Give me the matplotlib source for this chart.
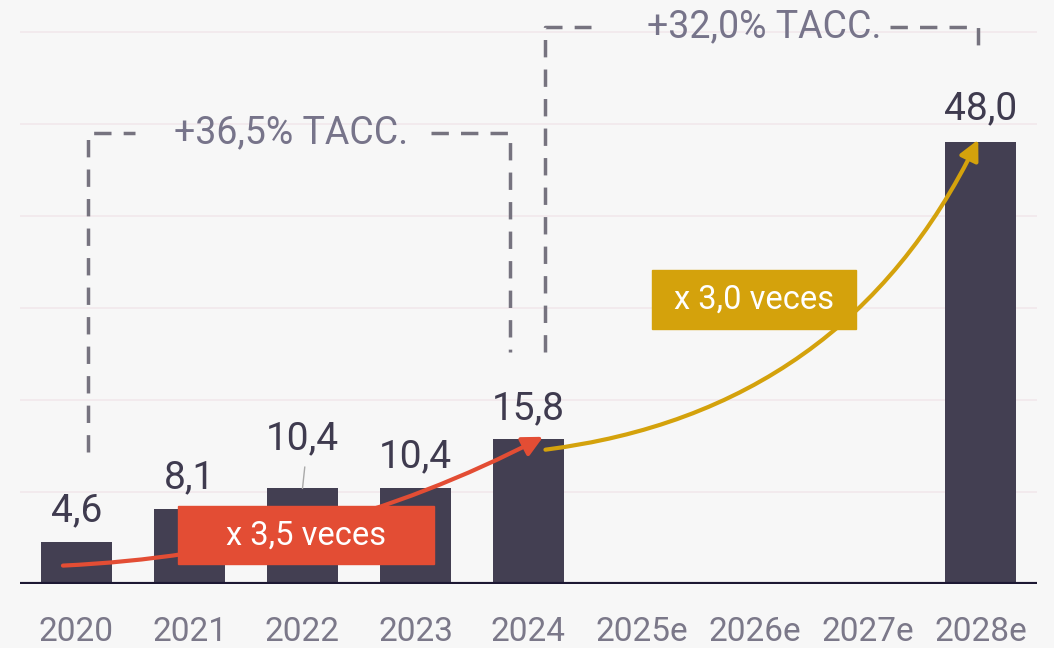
import matplotlib.pyplot as plt
from matplotlib.patches import FancyArrowPatch, Rectangle

plt.rcParams['font.family'] = ['Roboto', 'DejaVu Sans']

years = ['2020', '2021', '2022', '2023', '2024', '2025e', '2026e', '2027e', '2028e']
values = [4.6, 8.1, 10.4, 10.4, 15.8, None, None, None, 48.0]
value_labels = ['4,6', '8,1', '10,4', '10,4', '15,8', '', '', '', '48,0']
cagr_labels = ['+36,5% TACC.', '+32,0% TACC.']
multiple_labels = ['x 3,5 veces', 'x 3,0 veces']

bg = '#f7f7f7'
bar_color = '#433f52'
grey = '#77748a'
red = '#e34d34'
gold = '#d4a20c'

fig = plt.figure(figsize=(10.54, 6.48), dpi=100, facecolor=bg)
ax = fig.add_axes([20 / 1054, 64 / 648, 1017 / 1054, 0.8944])
ax.set_facecolor(bg)

x = list(range(len(years)))
heights = [v if v is not None else 0 for v in values]
ax.bar(x, heights, width=0.62, color=bar_color, zorder=2)

# gridlines + baseline
for g in [10, 20, 30, 40, 50, 60]:
    ax.axhline(g, color='#f1e8eb', lw=1.2, zorder=0)
ax.axhline(0, color='#1d1833', lw=3, zorder=3)

ax.set_xlim(-0.5, 8.5)
ax.set_ylim(0, 63)
ax.set_xticks(x)
ax.set_xticklabels(years, fontsize=24, color='#7b7889')
ax.tick_params(axis='x', length=0, pad=23)
ax.set_yticks([])
for s in ax.spines.values():
    s.set_visible(False)

# value labels
offsets = [15, 15, 28, 15, 14, 0, 0, 0, 17]
for i, (v, lab) in enumerate(zip(values, value_labels)):
    if v is None:
        continue
    ax.annotate(lab, (i, v), xytext=(0, offsets[i]), textcoords='offset points',
                ha='center', va='baseline', fontsize=28, color='#3f3b4f', zorder=5)
ax.plot([2.02, 2.0], [12.7, 10.4], color='#a9a9a9', lw=1, zorder=4)

# CAGR brackets
dash = dict(color='#76737f', lw=2.5, dashes=(5, 3.5), zorder=4)
ax.plot([0.10, 0.10, 0.52], [14.3, 49.0, 49.0], **dash)
ax.plot([3.14, 3.84, 3.84], [49.0, 49.0, 25.2], **dash)
ax.text(1.90, 49.0, cagr_labels[0], ha='center', va='center', fontsize=27, color=grey, zorder=5)

ax.plot([4.15, 4.15, 4.55], [25.2, 60.6, 60.6], **dash)
ax.plot([7.20, 7.98, 7.98], [60.6, 60.6, 57.5], **dash)
ax.text(6.09, 60.6, cagr_labels[1], ha='center', va='center', fontsize=27, color=grey, zorder=5)

# growth arrows
a1 = FancyArrowPatch((-0.12, 2.0), (4.13, 16.0), connectionstyle='arc3,rad=0.11',
                     arrowstyle='-|>,head_length=0.6,head_width=0.3', mutation_scale=20,
                     shrinkA=0, shrinkB=0, color=red, lw=3, zorder=6)
ax.add_patch(a1)
a2 = FancyArrowPatch((4.15, 14.6), (7.98, 48.3), connectionstyle='arc3,rad=0.27',
                     arrowstyle='-|>,head_length=0.6,head_width=0.3', mutation_scale=20,
                     shrinkA=0, shrinkB=0, color=gold, lw=3, zorder=6)
ax.add_patch(a2)

# multiple boxes
ax.add_patch(Rectangle((0.895, 2.17), 2.265, 6.31, color=red, zorder=7))
ax.text(2.03, 5.3, multiple_labels[0], ha='center', va='center', fontsize=23.5, color='white', zorder=8)
ax.add_patch(Rectangle((5.09, 27.7), 1.81, 6.4, color=gold, zorder=7))
ax.text(6.0, 30.9, multiple_labels[1], ha='center', va='center', fontsize=23.5, color='white', zorder=8)

plt.savefig('out.png', dpi=100, facecolor=bg)
